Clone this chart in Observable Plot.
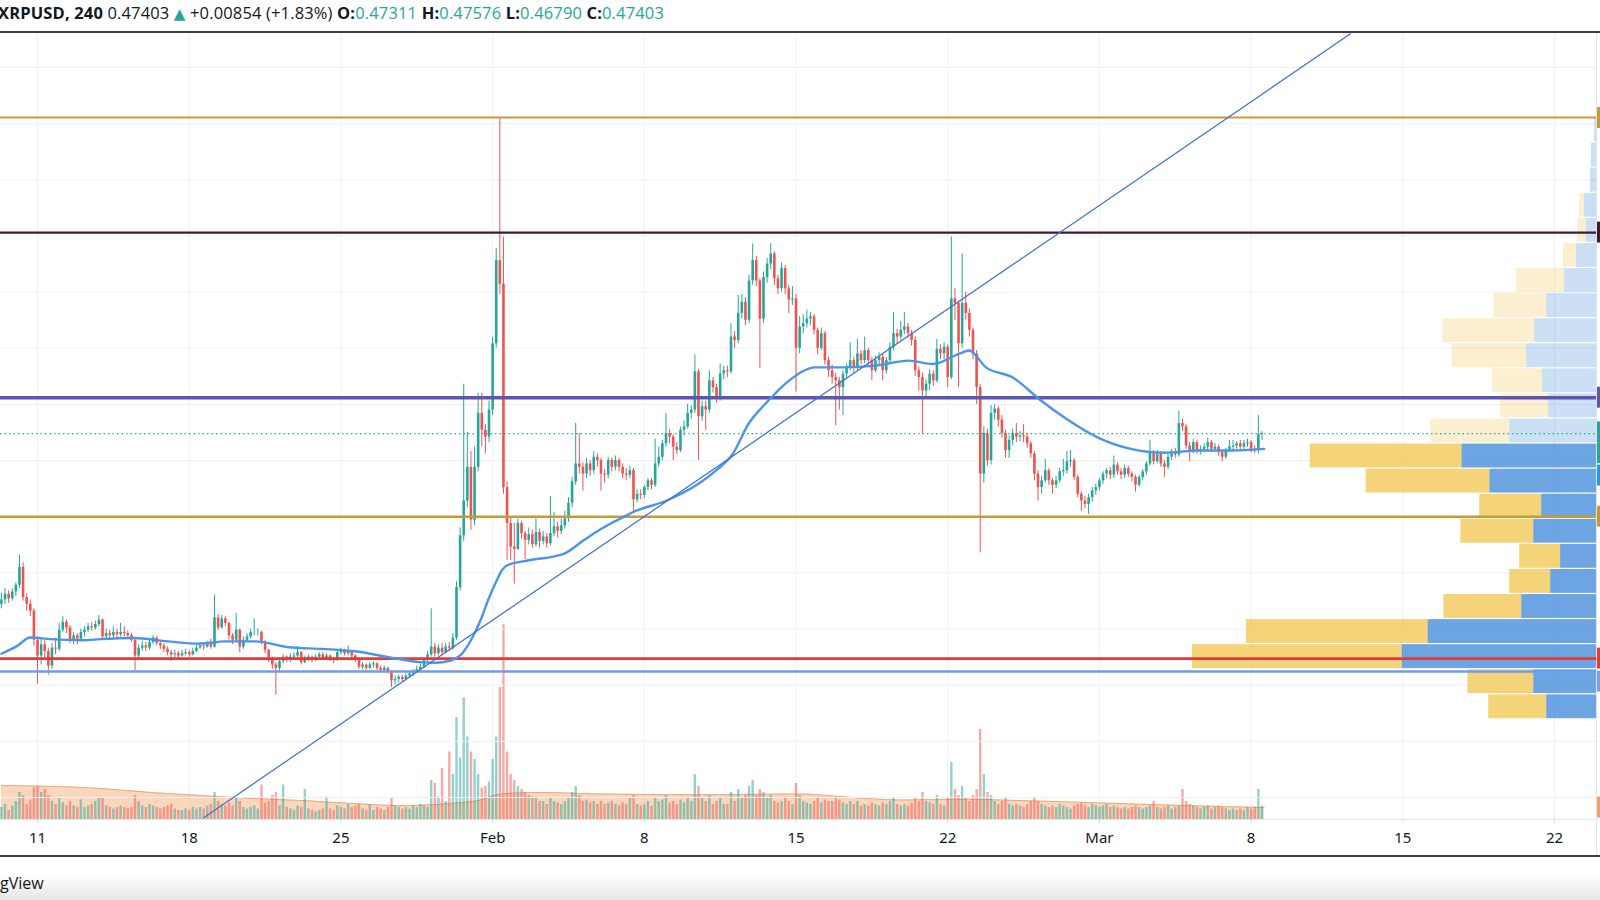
<!DOCTYPE html>
<html><head><meta charset="utf-8">
<script src="https://cdn.jsdelivr.net/npm/d3@7"></script>
<script src="https://cdn.jsdelivr.net/npm/@observablehq/plot@0.6"></script>
<style>
html,body{margin:0;padding:0;background:#fff;width:1600px;height:900px;overflow:hidden;font-family:"Open Sans",sans-serif;color:#131722;}
#header{position:absolute;left:-2px;top:1px;font-size:16.5px;line-height:24px;white-space:nowrap;letter-spacing:0.15px;}
#header b{font-weight:700;}
#header .t{color:#26a69a;}
#header .tri{color:#26a69a;font-family:"DejaVu Sans",sans-serif;font-size:15px;}
#topline{position:absolute;left:0;top:31px;width:1600px;height:2px;background:#3d3d3d;}
#chart{position:absolute;left:0;top:33px;width:1600px;height:823px;}
#chart svg{position:absolute;left:0;top:0;}
#rightline{position:absolute;left:1596px;top:33px;width:1px;height:823px;background:#e0e3eb;}
#bottomline{position:absolute;left:0;top:855px;width:1600px;height:2px;background:#3d3d3d;}
#footer{position:absolute;left:0;top:857px;width:1600px;height:43px;background:linear-gradient(to bottom,#fff 0px,#fff 16px,#e6e6e6 43px);}
#footer span{position:absolute;left:0;top:15px;font-size:16px;color:#131722;}
</style></head>
<body>
<div id="header"><b>XRPUSD, 240</b> 0.47403 <span class="tri">▲</span> +0.00854 (+1.83%) <b>O:</b><span class="t">0.47311</span> <b>H:</b><span class="t">0.47576</span> <b>L:</b><span class="t">0.46790</span> <b>C:</b><span class="t">0.47403</span></div>
<div id="topline"></div>
<div id="chart"></div>
<div id="rightline"></div>
<div id="bottomline"></div>
<div id="footer"><span>gView</span></div>
<script>
// ---------- DATA ----------
const firstOpen = 0.322;
const close = [
0.326,0.331,0.327,0.333,0.339,0.355,0.328,0.322,0.316,0.290,
0.276,0.286,0.280,0.267,0.283,0.282,0.299,0.306,0.301,0.289,
0.294,0.291,0.297,0.299,0.302,0.301,0.304,0.308,0.293,0.296,
0.294,0.297,0.295,0.297,0.296,0.294,0.290,0.276,0.283,0.285,
0.283,0.288,0.292,0.287,0.285,0.282,0.279,0.277,0.278,0.276,
0.278,0.279,0.277,0.280,0.283,0.285,0.284,0.286,0.284,0.310,
0.301,0.309,0.305,0.294,0.290,0.299,0.284,0.290,0.293,0.297,
0.297,0.297,0.288,0.281,0.273,0.268,0.265,0.271,0.275,0.272,
0.275,0.276,0.279,0.270,0.273,0.275,0.272,0.275,0.277,0.274,
0.276,0.273,0.272,0.279,0.281,0.278,0.280,0.276,0.272,0.266,
0.268,0.265,0.268,0.269,0.265,0.263,0.265,0.262,0.254,0.255,
0.257,0.255,0.258,0.260,0.262,0.264,0.266,0.272,0.277,0.284,
0.278,0.283,0.279,0.284,0.283,0.292,0.337,0.383,0.414,0.444,
0.397,0.444,0.492,0.477,0.471,0.495,0.554,0.628,0.607,0.426,
0.394,0.373,0.371,0.394,0.385,0.379,0.384,0.375,0.386,0.378,
0.382,0.376,0.385,0.391,0.387,0.392,0.398,0.412,0.431,0.447,
0.444,0.438,0.447,0.441,0.453,0.450,0.438,0.437,0.450,0.444,
0.450,0.444,0.438,0.437,0.441,0.415,0.420,0.419,0.426,0.432,
0.428,0.447,0.453,0.465,0.474,0.471,0.462,0.459,0.477,0.480,
0.492,0.495,0.529,0.489,0.498,0.495,0.521,0.515,0.506,0.527,
0.530,0.529,0.560,0.557,0.581,0.591,0.575,0.610,0.628,0.610,
0.576,0.613,0.625,0.634,0.612,0.603,0.621,0.603,0.593,0.594,
0.550,0.569,0.572,0.576,0.578,0.566,0.550,0.563,0.539,0.530,
0.524,0.521,0.515,0.527,0.533,0.539,0.533,0.545,0.539,0.548,
0.539,0.530,0.539,0.542,0.530,0.539,0.551,0.563,0.560,0.566,
0.569,0.563,0.557,0.530,0.524,0.512,0.518,0.527,0.521,0.549,
0.545,0.551,0.524,0.594,0.590,0.554,0.590,0.581,0.566,0.545,
0.515,0.438,0.474,0.450,0.492,0.496,0.486,0.474,0.459,0.468,
0.474,0.471,0.472,0.471,0.465,0.456,0.438,0.426,0.432,0.441,
0.432,0.428,0.432,0.440,0.441,0.449,0.450,0.435,0.420,0.414,
0.411,0.417,0.423,0.426,0.432,0.438,0.441,0.437,0.446,0.440,
0.437,0.443,0.438,0.435,0.428,0.435,0.440,0.447,0.457,0.449,
0.456,0.447,0.444,0.453,0.457,0.455,0.483,0.480,0.463,0.459,
0.466,0.459,0.460,0.462,0.466,0.460,0.462,0.457,0.453,0.459,
0.462,0.463,0.465,0.462,0.465,0.466,0.460,0.459,0.4731,0.47403];
const high = [
0.332,0.336,0.334,0.336,0.341,0.366,0.359,0.331,0.326,0.318,
0.293,0.292,0.290,0.283,0.287,0.292,0.305,0.311,0.308,0.303,
0.297,0.296,0.300,0.302,0.305,0.306,0.307,0.312,0.309,0.300,
0.299,0.302,0.300,0.305,0.302,0.298,0.296,0.291,0.286,0.289,
0.288,0.291,0.294,0.293,0.289,0.287,0.284,0.281,0.281,0.280,
0.281,0.282,0.281,0.283,0.286,0.288,0.287,0.289,0.291,0.330,
0.313,0.312,0.311,0.306,0.296,0.314,0.300,0.293,0.296,0.300,
0.309,0.300,0.298,0.290,0.282,0.275,0.270,0.273,0.277,0.276,
0.278,0.279,0.284,0.280,0.276,0.277,0.276,0.277,0.279,0.279,
0.278,0.277,0.275,0.281,0.283,0.282,0.285,0.281,0.277,0.273,
0.270,0.269,0.270,0.271,0.270,0.267,0.267,0.266,0.263,0.258,
0.259,0.259,0.260,0.262,0.264,0.267,0.269,0.274,0.280,0.318,
0.287,0.286,0.287,0.287,0.288,0.296,0.342,0.390,0.518,0.475,
0.458,0.462,0.510,0.510,0.482,0.503,0.560,0.639,0.755,0.649,
0.431,0.400,0.394,0.398,0.396,0.387,0.390,0.388,0.398,0.389,
0.387,0.385,0.418,0.404,0.395,0.398,0.405,0.417,0.435,0.483,
0.474,0.448,0.452,0.450,0.458,0.456,0.452,0.442,0.453,0.452,
0.454,0.452,0.447,0.443,0.445,0.443,0.424,0.424,0.428,0.434,
0.434,0.469,0.462,0.468,0.492,0.478,0.473,0.466,0.480,0.485,
0.500,0.499,0.544,0.531,0.503,0.503,0.530,0.524,0.518,0.536,
0.534,0.534,0.572,0.565,0.597,0.598,0.595,0.615,0.643,0.632,
0.612,0.618,0.630,0.643,0.636,0.615,0.626,0.624,0.606,0.605,
0.598,0.578,0.580,0.584,0.582,0.580,0.568,0.568,0.565,0.542,
0.535,0.528,0.524,0.530,0.536,0.555,0.542,0.558,0.548,0.560,
0.550,0.542,0.543,0.546,0.545,0.542,0.555,0.582,0.567,0.574,
0.582,0.572,0.566,0.560,0.533,0.528,0.522,0.531,0.530,0.558,
0.553,0.555,0.553,0.649,0.603,0.592,0.634,0.600,0.585,0.568,
0.548,0.518,0.480,0.478,0.499,0.500,0.498,0.490,0.477,0.472,
0.478,0.483,0.476,0.482,0.474,0.467,0.458,0.441,0.436,0.451,
0.443,0.434,0.436,0.443,0.451,0.458,0.459,0.452,0.437,0.422,
0.418,0.420,0.426,0.429,0.434,0.440,0.443,0.444,0.454,0.448,
0.443,0.446,0.445,0.440,0.437,0.437,0.442,0.449,0.468,0.459,
0.459,0.458,0.450,0.456,0.460,0.461,0.494,0.487,0.482,0.466,
0.469,0.468,0.463,0.465,0.470,0.468,0.465,0.464,0.459,0.461,
0.468,0.468,0.467,0.468,0.468,0.469,0.468,0.463,0.490,0.47576];
const low = [
0.318,0.322,0.323,0.325,0.329,0.336,0.325,0.316,0.311,0.285,
0.251,0.268,0.274,0.259,0.264,0.277,0.280,0.297,0.296,0.287,
0.286,0.286,0.289,0.293,0.297,0.298,0.299,0.302,0.291,0.291,
0.290,0.292,0.292,0.293,0.293,0.291,0.288,0.263,0.273,0.280,
0.280,0.281,0.286,0.285,0.282,0.279,0.276,0.271,0.274,0.274,
0.275,0.276,0.275,0.276,0.279,0.282,0.281,0.283,0.282,0.283,
0.299,0.300,0.302,0.290,0.286,0.288,0.279,0.282,0.288,0.291,
0.294,0.294,0.286,0.278,0.270,0.264,0.241,0.262,0.269,0.270,
0.270,0.272,0.274,0.268,0.269,0.271,0.270,0.271,0.273,0.272,
0.272,0.271,0.269,0.271,0.277,0.276,0.276,0.274,0.270,0.264,
0.264,0.263,0.264,0.265,0.263,0.261,0.261,0.260,0.248,0.250,
0.252,0.253,0.254,0.256,0.258,0.261,0.262,0.265,0.270,0.275,
0.275,0.276,0.277,0.278,0.280,0.281,0.290,0.334,0.378,0.408,
0.388,0.392,0.440,0.462,0.456,0.466,0.490,0.550,0.598,0.420,
0.361,0.361,0.340,0.370,0.380,0.362,0.375,0.372,0.373,0.372,
0.375,0.372,0.374,0.382,0.381,0.384,0.389,0.395,0.408,0.428,
0.438,0.423,0.434,0.436,0.438,0.444,0.423,0.430,0.434,0.440,
0.441,0.440,0.434,0.432,0.434,0.403,0.412,0.415,0.416,0.423,
0.424,0.426,0.444,0.450,0.462,0.465,0.450,0.455,0.457,0.472,
0.478,0.487,0.492,0.450,0.485,0.477,0.492,0.510,0.501,0.503,
0.522,0.524,0.527,0.550,0.554,0.576,0.570,0.572,0.606,0.605,
0.532,0.572,0.608,0.620,0.606,0.598,0.600,0.598,0.581,0.588,
0.511,0.545,0.563,0.568,0.570,0.562,0.544,0.548,0.535,0.524,
0.518,0.481,0.495,0.490,0.522,0.530,0.528,0.530,0.535,0.536,
0.535,0.521,0.528,0.535,0.521,0.527,0.536,0.548,0.554,0.557,
0.562,0.559,0.552,0.525,0.512,0.474,0.505,0.512,0.516,0.519,
0.540,0.540,0.515,0.522,0.575,0.515,0.550,0.575,0.560,0.540,
0.500,0.368,0.430,0.445,0.446,0.486,0.480,0.470,0.452,0.452,
0.463,0.466,0.467,0.466,0.461,0.452,0.432,0.414,0.420,0.430,
0.428,0.420,0.425,0.430,0.436,0.438,0.444,0.432,0.417,0.405,
0.407,0.402,0.413,0.419,0.423,0.429,0.434,0.433,0.434,0.437,
0.433,0.434,0.435,0.431,0.422,0.426,0.432,0.437,0.445,0.446,
0.447,0.444,0.435,0.442,0.450,0.452,0.453,0.476,0.460,0.449,
0.456,0.456,0.455,0.457,0.459,0.457,0.458,0.454,0.449,0.451,
0.457,0.459,0.460,0.459,0.460,0.462,0.457,0.456,0.456,0.4679];
const volume = [
8,10,6,9,12,18,16,10,13,21,
22,18,20,16,12,10,14,11,9,12,
9,8,13,8,9,10,12,14,14,9,
8,7,8,9,8,7,8,16,12,9,
8,10,9,8,7,8,9,10,7,6,
6,7,6,8,7,8,7,9,10,18,
12,10,9,11,9,14,12,8,7,8,
9,7,23,11,12,16,18,9,23,8,
7,6,9,8,20,7,6,5,6,7,
15,7,6,9,8,7,10,8,9,10,
7,6,10,6,8,7,6,8,14,9,
8,7,8,7,9,8,10,9,8,26,
24,15,34,12,45,30,68,41,81,55,
45,40,30,21,22,25,40,55,88,130,
45,30,26,22,20,18,16,15,14,12,
12,10,14,12,11,10,12,14,18,22,
16,12,13,11,12,10,12,10,11,12,
10,9,11,10,14,16,10,9,10,12,
9,14,12,13,16,11,12,10,13,11,
14,12,30,22,14,12,16,10,12,14,
10,10,18,12,20,14,16,22,26,16,
20,18,14,16,12,11,12,14,12,10,
24,16,12,11,10,12,14,11,13,12,
12,14,13,11,10,12,10,12,9,10,
9,11,10,9,11,10,12,14,10,9,
10,9,11,14,12,18,12,11,10,16,
10,9,14,38,20,16,22,14,12,16,
20,60,30,18,16,12,10,12,14,10,
9,10,9,8,10,12,14,12,10,9,
8,9,8,10,9,8,7,9,10,11,
9,8,10,9,8,9,10,8,9,8,
7,8,7,8,9,8,7,8,9,12,
8,7,8,9,7,8,9,20,12,10,
9,8,7,8,9,7,8,9,8,7,
6,7,6,7,6,8,7,8,20,9];

// moving average of price (candle index, price)
const maIdx = [0,4.4,8,13.6,22.7,27.4,36.6,46,55,62,70.4,79.5,88.9,98,107.2,116,120,124.4,127.2,130,132.7,134.9,137.4,138.5,140.2,145.7,155.7,161.2,166,168.7,173,174.8,183.9,193.1,197.8,202.5,206.9,211.6,218,225.5,233,242.1,251.2,257.9,265.1,267.9,272.6,280,287.8,294.2,303.6,312.7,321.9,331.3,340.4,349.6];
const maVal = [0.278,0.285,0.2924,0.291,0.290,0.291,0.292,0.289,0.287,0.289,0.289,0.2838,0.2823,0.2802,0.2749,0.2705,0.270,0.272,0.277,0.290,0.308,0.327,0.345,0.352,0.357,0.361,0.367,0.379,0.389,0.394,0.401,0.404,0.414,0.4295,0.441,0.456,0.483,0.5008,0.521,0.533,0.533,0.5346,0.539,0.536,0.545,0.548,0.533,0.524,0.5035,0.4886,0.4705,0.4604,0.457,0.459,0.459,0.4604];

// moving average of volume (candle index, volume)
const volMaIdx = [0,27.4,41.3,55.1,69,82.8,96.7,110.5,124.4,132.7,138.2,149.3,166,193.6,221.3,233.8,249,265.6,276.7,304.4,332.1,349.6];
const volMaVal = [22.7,20.7,18,16,14,12.7,10.7,9.3,10.7,13,17,18,17,16.5,17,15,13,13.5,13,11,9,8];

// horizontal levels drawn on the chart
const levelPrices = [0.7555, 0.653, 0.506, 0.400, 0.2737, 0.2622];
const lastPrice = 0.47403;

// price-scale labels peeking in at the right edge (centre price)
const tagPrices = [0.755, 0.653, 0.506, 0.4752, 0.4565, 0.4367, 0.400, 0.2737, 0.2532, 0.141];

// trend line anchors
const trendDates = ["2021-01-18T16:00Z", "2021-03-12T14:00Z"];
const trendPrices = [0.132, 0.830];

// visible range volume profile (rows from top price down)
const profileTop = 0.7555, profileBottom = 0.2196;
const upVol   = [1,2.5,3,6,5,10,16,25,31,35,27,24,43.5,67.5,53.5,27.5,31.5,18,23,37.5,84.5,97.5,31.5,25];
const downVol = [0,0,0,2.5,4.5,6.5,24,26.5,46,37.5,25,24,39.5,76,62,31,36.5,20.5,20.5,39,91,105,33,29];
const valueAreaFirstRow = 13;

// axis
const tickDates = ["2021-01-11","2021-01-18","2021-01-25","2021-02-01","2021-02-08","2021-02-15","2021-02-22","2021-03-01","2021-03-08","2021-03-15","2021-03-22"];
const tickLabels = ["11","18","25","Feb","8","15","22","Mar","8","15","22"];
const gridPrices = [0.15,0.2,0.25,0.3,0.35,0.4,0.45,0.5,0.55,0.6,0.65,0.7,0.75,0.8];

// ---------- STYLE ----------
const UP = "#26a69a", DOWN = "#ef5350";
const levelStyle = [
  {stroke:"#c59b38", w:2.2},
  {stroke:"#3e1a2c", w:2.4},
  {stroke:"#5d55b0", w:3.4},
  {stroke:"#c59b38", w:2.6},
  {stroke:"#e53935", w:2.8},
  {stroke:"#6f9ce8", w:2.4}
];
const tagColors = ["#c49a36","#3e1a2c","#5d55b0","#26a69a","#26a69a","#2196f3","#c49a36","#e53935","#7b9ce8","#f0a070"];

// ---------- BUILD ----------
const t0 = Date.UTC(2021,0,9,8);
const H4 = 4*3600*1000;
const idxDate = i => new Date(t0 + i*H4);
const candles = close.map((c,i)=>({
  date: idxDate(i), open: i ? close[i-1] : firstOpen, high: high[i], low: low[i], close: c, volume: volume[i]
}));
candles[candles.length-1].open = 0.47311;
const ma = maIdx.map((k,j)=>({date: idxDate(k), v: maVal[j]}));
const volMa = volMaIdx.map((k,j)=>({date: idxDate(k), v: volMaVal[j]}));
const trend = trendDates.map((d,j)=>({date:new Date(d), p: trendPrices[j]}));
const rowH = (profileTop - profileBottom)/upVol.length;
const rows = upVol.map((u,k)=>({hi: profileTop - k*rowH, lo: profileTop - (k+1)*rowH, up: u, down: downVol[k], va: k >= valueAreaFirstRow}));
const levels = levelPrices.map((p,j)=>({p, ...levelStyle[j]}));

const W = 1600, Hh = 823;
const common = {width: W, height: Hh, marginLeft: 0, marginRight: 4, marginTop: 0, marginBottom: 37,
  style: {background: "transparent", overflow: "visible"}};
const xDomain = [new Date(Date.UTC(2021,0,9,7,0)), new Date(Date.UTC(2021,2,23,22,30))];
const yDomain = [0.1304, 0.8303];
const isUp = d => d.close >= d.open;
const tagHalf = 0.0093;
const tags = tagPrices.map((p,j)=>({y1: p - tagHalf, y2: p + tagHalf, fill: tagColors[j]}));
const beyond = new Date(xDomain[1].getTime() + 12*3600*1000);

// Layer 1: volume, vertical grid, time axis
const layerVol = Plot.plot({
  ...common,
  x: {type: "utc", domain: xDomain},
  y: {domain: [0, 524], axis: null},
  marks: [
    Plot.ruleX(tickDates.map(d=>new Date(d)), {stroke: "#eef0f4", strokeWidth: 1}),
    Plot.areaY(volMa, {x: "date", y: "v", fill: "#f5b587", fillOpacity: 0.55, curve: "monotone-x"}),
    Plot.lineY(volMa, {x: "date", y: "v", stroke: "#f0a878", strokeWidth: 1, curve: "monotone-x"}),
    Plot.ruleX(candles, {x: "date", y: "volume", stroke: d => isUp(d) ? UP : DOWN, strokeOpacity: 0.5, strokeWidth: 2.4}),
    Plot.ruleY([0], {stroke: "#e0e3eb"}),
    Plot.axisX({ticks: tickDates.map(d=>new Date(d)), tickFormat: (d,i) => tickLabels[i], tickSize: 4, tickPadding: 9,
      fontSize: 15, stroke: "#d6d9e0", fill: "#131722"})
  ]
});

// Layer 2: horizontal grid and volume profile
const layerProfile = Plot.plot({
  ...common,
  x: {domain: [0, 800], reverse: true, axis: null},
  y: {domain: yDomain, axis: null},
  marks: [
    Plot.ruleY(gridPrices, {stroke: "#eef0f4", strokeWidth: 1}),
    Plot.rectX(rows, {x1: 0, x2: "up", y1: "lo", y2: "hi", fill: "#2f7fd6", fillOpacity: d => d.va ? 0.7 : 0.25, insetTop: 0.6, insetBottom: 0.6}),
    Plot.rectX(rows, {x1: "up", x2: d => d.up + d.down, y1: "lo", y2: "hi", fill: "#f0c040", fillOpacity: d => d.va ? 0.7 : 0.25, insetTop: 0.6, insetBottom: 0.6})
  ]
});

// Layer 3: candles and drawings
const layerMain = Plot.plot({
  ...common,
  x: {type: "utc", domain: xDomain, axis: null},
  y: {domain: yDomain, axis: null},
  marks: [
    Plot.ruleY([lastPrice], {stroke: UP, strokeDasharray: "1.5,3", strokeWidth: 1.2}),
    Plot.ruleX(candles, {x: "date", y1: "low", y2: "high", stroke: d => isUp(d) ? UP : DOWN, strokeWidth: 1}),
    Plot.ruleX(candles, {x: "date", y1: "open", y2: "close", stroke: d => isUp(d) ? UP : DOWN, strokeWidth: 2.6}),
    Plot.ruleY(levels, {y: "p", stroke: "stroke", strokeWidth: "w"}),
    Plot.line(ma, {x: "date", y: "v", stroke: "#4a94ec", strokeWidth: 2.4, curve: "monotone-x"}),
    Plot.line(trend, {x: "date", y: "p", stroke: "#3e6fd6", strokeWidth: 1.2, clip: true}),
    Plot.rect(tags, {x1: () => xDomain[1], x2: () => beyond, y1: "y1", y2: "y2", fill: "fill"})
  ]
});

const host = document.getElementById("chart");
host.append(layerVol, layerProfile, layerMain);
</script>
</body></html>
